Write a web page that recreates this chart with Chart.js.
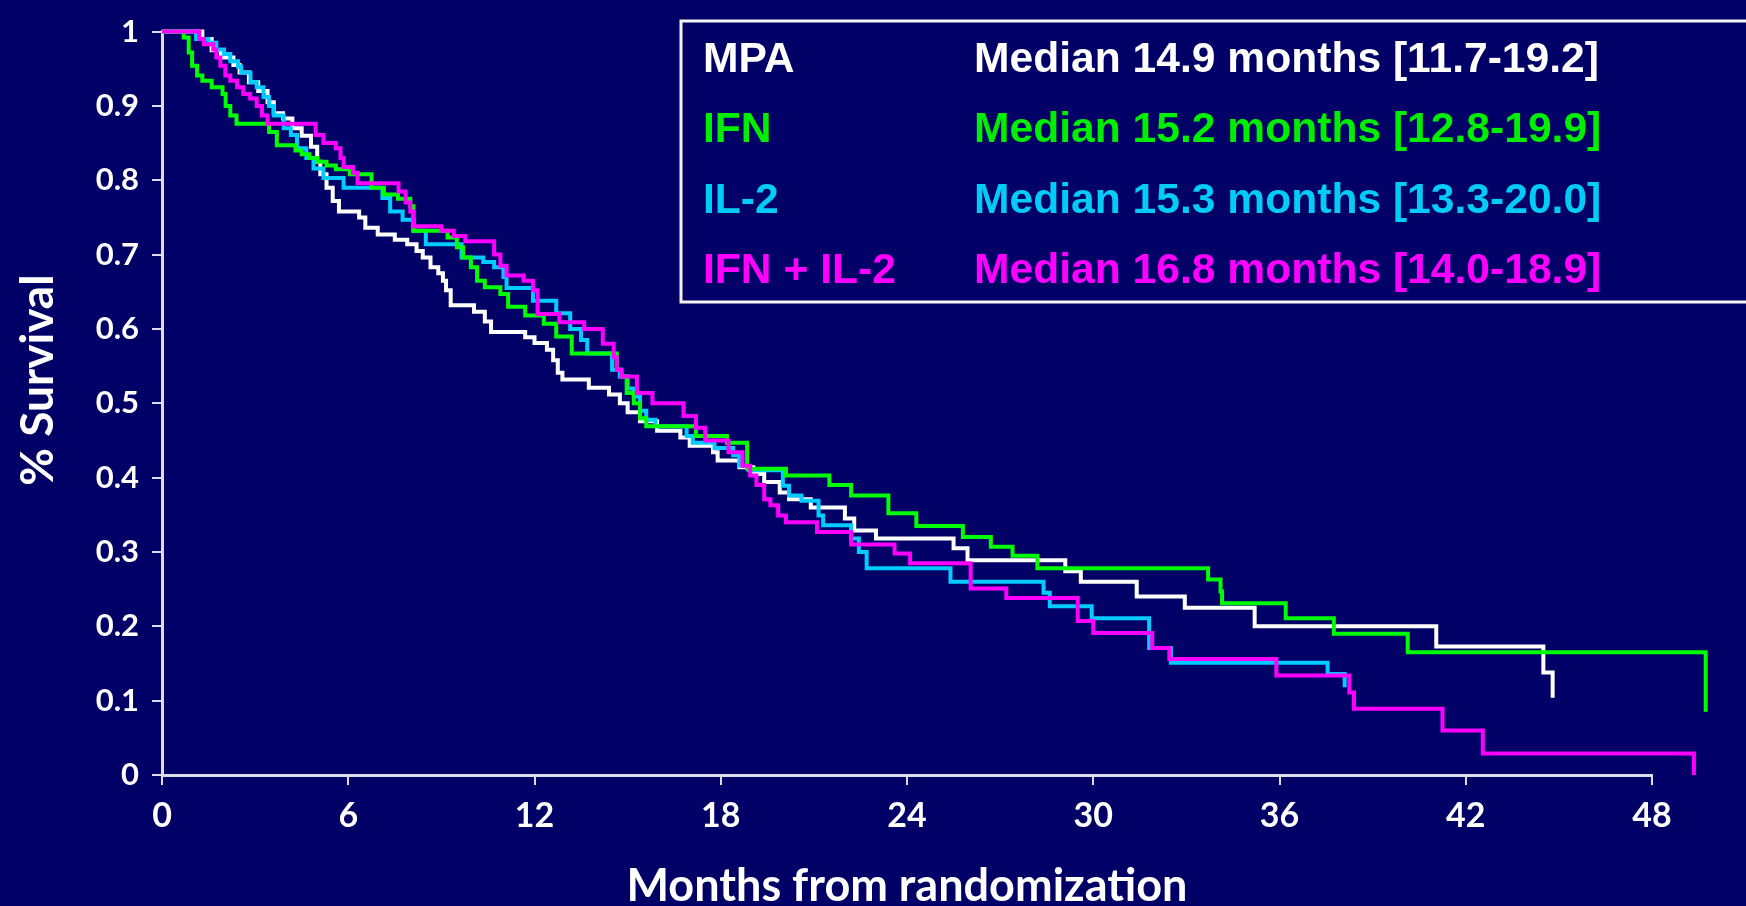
<!DOCTYPE html>
<html>
<head>
<meta charset="utf-8">
<script src="https://cdn.jsdelivr.net/npm/chart.js@4.4.1/dist/chart.umd.min.js"></script>
<style>
  html, body { margin: 0; padding: 0; background: #000066; }
  #wrap { width: 1746px; height: 906px; position: relative; }
</style>
</head>
<body>
<div id="wrap"><canvas id="kmChart"></canvas></div>
<script>
// Kaplan-Meier curves: month of each drop and the survival after it
const mpaMonths = [0, 1.3, 1.6, 1.9, 2.3, 2.5, 2.8, 3.1, 3.4, 3.6, 3.9, 4.2, 4.5, 4.8, 5.0, 5.1, 5.3, 5.5, 5.7, 6.35,
  6.55, 6.95, 7.5, 7.9, 8.2, 8.4, 8.65, 8.9, 9.05, 9.15, 9.3, 10.05, 10.4, 10.6, 11.7, 12.0, 12.4, 12.6, 12.75, 12.9,
  13.75, 14.4, 14.75, 15.0, 15.4, 15.95, 16.7, 17.0, 17.75, 17.9, 18.6, 19.05, 19.4, 19.9, 20.2, 20.9, 22.0, 22.3, 23.0, 25.5,
  25.95, 29.1, 29.6, 31.4, 32.95, 35.2, 41.05, 44.5, 44.8];
const mpaSurv = [1, 0.99, 0.975, 0.965, 0.955, 0.945, 0.932, 0.92, 0.905, 0.89, 0.883, 0.87, 0.86, 0.845, 0.825, 0.808, 0.79, 0.772, 0.758, 0.75,
  0.736, 0.727, 0.72, 0.714, 0.705, 0.696, 0.683, 0.675, 0.665, 0.652, 0.632, 0.623, 0.61, 0.596, 0.589, 0.581, 0.572, 0.558, 0.541, 0.532,
  0.521, 0.512, 0.5, 0.488, 0.476, 0.463, 0.454, 0.443, 0.434, 0.423, 0.414, 0.405, 0.394, 0.38, 0.371, 0.36, 0.345, 0.329, 0.318, 0.305,
  0.289, 0.274, 0.26, 0.24, 0.225, 0.2, 0.173, 0.138, 0.104];

const ifnMonths = [0, 0.7, 0.86, 0.97, 1.13, 1.3, 1.6, 1.95, 2.05, 2.2, 2.4, 3.45, 3.7, 4.3, 4.5, 4.75, 5.0, 5.3, 5.6, 6.05,
  6.75, 7.15, 7.6, 8.0, 8.1, 9.2, 9.5, 9.7, 9.95, 10.15, 10.4, 10.9, 11.15, 11.7, 12.3, 12.7, 13.2, 14.65, 14.8, 14.97,
  15.2, 15.4, 15.6, 17.2, 18.2, 18.85, 20.1, 21.5, 22.2, 23.4, 24.3, 25.8, 26.7, 27.4, 28.2, 33.7, 34.1, 34.15, 36.2, 37.75,
  40.13, 49.73];
const ifnSurv = [1, 0.992, 0.972, 0.954, 0.941, 0.934, 0.925, 0.916, 0.9, 0.887, 0.876, 0.865, 0.847, 0.84, 0.835, 0.83, 0.825, 0.82, 0.815, 0.808,
  0.79, 0.781, 0.775, 0.765, 0.732, 0.723, 0.71, 0.696, 0.683, 0.665, 0.656, 0.647, 0.63, 0.618, 0.607, 0.59, 0.567, 0.545, 0.536, 0.514,
  0.5, 0.48, 0.469, 0.456, 0.447, 0.412, 0.403, 0.39, 0.376, 0.352, 0.335, 0.32, 0.307, 0.295, 0.278, 0.263, 0.247, 0.231, 0.211, 0.19,
  0.165, 0.085];

const il2Months = [0, 1.1, 1.5, 1.75, 2.0, 2.2, 2.45, 2.55, 2.85, 3.05, 3.27, 3.45, 3.6, 3.92, 4.15, 4.35, 4.65, 4.88, 5.2, 5.85,
  7.1, 7.35, 7.75, 8.1, 8.5, 9.65, 10.35, 10.7, 11.0, 11.1, 11.95, 12.7, 13.15, 13.5, 13.7, 14.5, 14.75, 15.0, 15.2, 15.4,
  15.6, 15.9, 16.9, 17.1, 17.8, 18.4, 18.6, 18.9, 20.0, 20.2, 20.6, 21.15, 21.3, 22.2, 22.45, 22.7, 25.4, 28.4, 28.6, 29.95,
  31.8, 32.5, 37.55, 38.1];
const il2Surv = [1, 0.99, 0.985, 0.976, 0.97, 0.96, 0.953, 0.945, 0.932, 0.925, 0.912, 0.9, 0.887, 0.87, 0.861, 0.843, 0.83, 0.816, 0.803, 0.79,
  0.776, 0.758, 0.747, 0.732, 0.714, 0.696, 0.69, 0.683, 0.67, 0.655, 0.638, 0.621, 0.6, 0.585, 0.567, 0.545, 0.536, 0.52, 0.509, 0.49,
  0.478, 0.469, 0.456, 0.447, 0.44, 0.43, 0.416, 0.41, 0.389, 0.376, 0.369, 0.349, 0.336, 0.318, 0.3, 0.278, 0.26, 0.245, 0.227, 0.211,
  0.171, 0.151, 0.136, 0.118];

const comboMonths = [0, 1.2, 1.35, 1.65, 1.75, 1.88, 2.04, 2.2, 2.42, 2.62, 2.84, 3.05, 3.22, 3.4, 4.95, 5.2, 5.6, 5.75, 5.85, 6.15,
  6.3, 7.62, 7.85, 8.0, 8.1, 9.0, 9.4, 9.77, 10.7, 10.9, 11.1, 11.65, 11.95, 12.1, 12.8, 13.6, 14.2, 14.55, 14.65, 14.8,
  15.3, 15.8, 16.8, 17.2, 17.5, 18.25, 18.7, 18.95, 19.15, 19.4, 19.6, 19.85, 20.1, 21.1, 22.2, 23.6, 24.1, 26.05, 27.2, 29.5,
  30.0, 31.9, 32.45, 35.9, 38.25, 38.4, 41.25, 42.55, 49.35];
const comboSurv = [1, 0.99, 0.983, 0.976, 0.965, 0.954, 0.941, 0.934, 0.925, 0.916, 0.91, 0.9, 0.887, 0.876, 0.861, 0.85, 0.843, 0.83, 0.818, 0.81,
  0.796, 0.785, 0.77, 0.758, 0.738, 0.732, 0.725, 0.718, 0.7, 0.685, 0.672, 0.665, 0.652, 0.62, 0.609, 0.6, 0.58, 0.562, 0.545, 0.536,
  0.514, 0.5, 0.483, 0.467, 0.45, 0.434, 0.416, 0.403, 0.39, 0.371, 0.363, 0.349, 0.34, 0.327, 0.31, 0.298, 0.285, 0.251, 0.238, 0.207,
  0.191, 0.171, 0.156, 0.134, 0.111, 0.089, 0.06, 0.029, 0];

const seriesNames = ['MPA', 'IFN', 'IL-2', 'IFN + IL-2'];
const medianTexts = ['Median 14.9 months [11.7-19.2]', 'Median 15.2 months [12.8-19.9]',
  'Median 15.3 months [13.3-20.0]', 'Median 16.8 months [14.0-18.9]'];
const seriesColors = ['#ffffff', '#00ff00', '#00ccff', '#ff00ff'];
const legendTextColors = ['#ffffff', '#00ee00', '#00ccf5', '#ff00ff'];

const xTickLabels = ['0', '6', '12', '18', '24', '30', '36', '42', '48'];
const yTickLabels = ['0', '0.1', '0.2', '0.3', '0.4', '0.5', '0.6', '0.7', '0.8', '0.9', '1'];

const toPoints = (xs, ys) => xs.map((x, i) => ({ x: x, y: ys[i] }));
const axisColor = '#dcdcec';

// legend box with the medians, drawn in the top right like on the slide
const medianBox = {
  id: 'medianBox',
  afterDraw(chart) {
    const ctx = chart.ctx;
    ctx.save();
    ctx.strokeStyle = '#f4f4f4';
    ctx.lineWidth = 3;
    ctx.strokeRect(681, 21, 1100, 281);
    ctx.font = 'bold 42.6px "Liberation Sans", Arial, sans-serif';
    ctx.textBaseline = 'alphabetic';
    ctx.textAlign = 'left';
    seriesNames.forEach((name, i) => {
      const y = 71.5 + i * 70.5;
      ctx.fillStyle = legendTextColors[i];
      ctx.fillText(name, 703, y);
      ctx.fillText(medianTexts[i], 974, y);
    });
    ctx.restore();
  }
};

// rotated y title, placed a little above the middle of the axis as in the source
const yTitle = {
  id: 'yTitle',
  afterDraw(chart) {
    const ctx = chart.ctx;
    ctx.save();
    ctx.translate(38, 380);
    ctx.rotate(-Math.PI / 2);
    ctx.font = 'bold 46px Lato, sans-serif';
    ctx.fillStyle = '#ffffff';
    ctx.textAlign = 'center';
    ctx.textBaseline = 'middle';
    ctx.fillText('% Survival', 0, 0);
    ctx.restore();
  }
};

const makeSet = (label, xs, ys, color, order) => ({
  label: label,
  data: toPoints(xs, ys),
  borderColor: color,
  borderWidth: 4,
  pointRadius: 0,
  stepped: true,
  fill: false,
  clip: false,
  order: order
});

new Chart(document.getElementById('kmChart'), {
  type: 'line',
  data: {
    datasets: [
      makeSet(seriesNames[0], mpaMonths, mpaSurv, seriesColors[0], 3),
      makeSet(seriesNames[1], ifnMonths, ifnSurv, seriesColors[1], 1),
      makeSet(seriesNames[2], il2Months, il2Surv, seriesColors[2], 2),
      makeSet(seriesNames[3], comboMonths, comboSurv, seriesColors[3], 0)
    ]
  },
  options: {
    responsive: true,
    maintainAspectRatio: false,
    animation: false,
    layout: { padding: { top: 26, right: 94, bottom: 0, left: 0 } },
    plugins: { legend: { display: false }, tooltip: { enabled: false } },
    scales: {
      x: {
        type: 'linear',
        min: 0,
        max: 48,
        afterFit: (s) => { s.height = 131; },
        border: { display: true, color: axisColor, width: 3 },
        grid: { drawOnChartArea: false, drawTicks: true, tickLength: 10, color: axisColor, lineWidth: 2 },
        ticks: {
          stepSize: 6,
          color: '#ffffff',
          padding: 11,
          font: { family: 'Lato', weight: 'bold', size: 34 },
          callback: (v) => xTickLabels[v / 6]
        },
        title: {
          display: true,
          text: 'Months from randomization',
          color: '#ffffff',
          font: { family: 'Lato', weight: 'bold', size: 45, lineHeight: 0.8 },
          padding: { top: 0, bottom: 2 }
        }
      },
      y: {
        min: 0,
        max: 1,
        afterFit: (s) => { s.width = 162; },
        border: { display: true, color: axisColor, width: 3 },
        grid: { drawOnChartArea: false, drawTicks: true, tickLength: 10, color: axisColor, lineWidth: 2 },
        ticks: {
          stepSize: 0.1,
          color: '#ffffff',
          padding: 13,
          font: { family: 'Lato', weight: 'bold', size: 31 },
          callback: (v) => yTickLabels[Math.round(v * 10)]
        }
      }
    }
  },
  plugins: [medianBox, yTitle]
});
</script>
</body>
</html>
